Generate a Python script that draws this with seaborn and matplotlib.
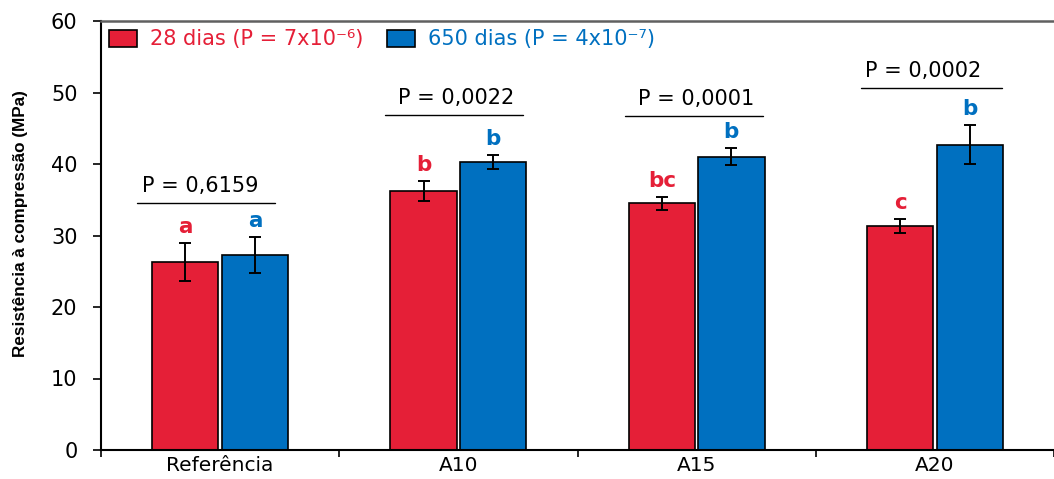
import numpy as np
import pandas as pd
import matplotlib
matplotlib.use("Agg")
import matplotlib.pyplot as plt
import seaborn as sns
from matplotlib.patches import Patch

categories = ["Referência", "A10", "A15", "A20"]
series_names = ["28 dias", "650 dias"]
legend_labels = ["28 dias (P = 7x10⁻⁶)", "650 dias (P = 4x10⁻⁷)"]
values_28 = [26.3, 36.2, 34.5, 31.3]
errors_28 = [2.6, 1.4, 0.9, 1.0]
values_650 = [27.3, 40.3, 41.0, 42.7]
errors_650 = [2.5, 1.0, 1.2, 2.7]
letters_28 = ["a", "b", "bc", "c"]
letters_650 = ["a", "b", "b", "b"]
p_texts = ["P = 0,6159", "P = 0,0022", "P = 0,0001", "P = 0,0002"]
p_levels = [34.55, 46.85, 46.7, 50.6]
yticks = [0, 10, 20, 30, 40, 50, 60]

# layout of the P-value brackets (offsets from category centre)
line_start = [-0.35, -0.31, -0.30, -0.31]
line_end = [0.23, 0.27, 0.28, 0.28]
text_off = [-0.085, -0.01, 0.0, -0.05]

red = "#E51F37"
blue = "#0070C0"

sns.set_style("white")
plt.rcParams["font.family"] = ["DejaVu Sans"]
plt.rcParams["text.color"] = "black"
plt.rcParams["axes.labelcolor"] = "black"
plt.rcParams["xtick.color"] = "black"
plt.rcParams["ytick.color"] = "black"

df = pd.DataFrame({
    "cat": categories * 2,
    "serie": [series_names[0]] * 4 + [series_names[1]] * 4,
    "val": values_28 + values_650,
})

fig = plt.figure(figsize=(10.54, 4.79), dpi=100)
ax = fig.add_axes([101 / 1054, 1 - 450 / 479, 1 - 101 / 1054, (450 - 21) / 479])

sns.barplot(data=df, x="cat", y="val", hue="serie", order=categories,
            hue_order=series_names, palette=[red, blue], saturation=1,
            width=0.584, gap=0.048, edgecolor="black", linewidth=1.2,
            errorbar=None, legend=False, ax=ax)

cols = [red, blue]
vals = [values_28, values_650]
errs = [errors_28, errors_650]
lets = [letters_28, letters_650]
bar_containers = list(ax.containers)
for s, cont in enumerate(bar_containers):
    for i, bar in enumerate(cont.patches):
        xc = bar.get_x() + bar.get_width() / 2
        ax.errorbar(xc, vals[s][i], yerr=errs[s][i], fmt="none", ecolor="black",
                    elinewidth=1.4, capsize=4, capthick=1.4, zorder=5)
        ax.text(xc, vals[s][i] + errs[s][i] + 1.4, lets[s][i], color=cols[s],
                ha="center", va="baseline", fontsize=15.5, fontweight="bold")

for i, (txt, lvl) in enumerate(zip(p_texts, p_levels)):
    ax.plot([i + line_start[i], i + line_end[i]], [lvl, lvl], color="black", lw=1.0)
    ax.text(i + text_off[i], lvl + 1.5, txt, ha="center", va="baseline", fontsize=15,
            color="black")

ax.set_ylim(0, 60)
ax.set_xlim(-0.5, -0.5 + 953 / 241.5)
ax.set_yticks(yticks)
ax.set_xticks(range(len(categories)))
ax.set_xticklabels(categories)
ax.set_xticks(np.arange(-0.5, 4, 1), minor=True)
ax.tick_params(axis="x", which="major", length=0, labelsize=14.5, pad=4, labelcolor="black")
ax.tick_params(axis="x", which="minor", length=5, width=1.2, direction="out", bottom=True,
               color="black")
ax.tick_params(axis="y", length=6, width=1.2, direction="out", left=True, labelsize=15, pad=11,
               color="black", labelcolor="black")
ax.set_xlabel("")
ax.set_ylabel("Resistência à compressão (MPa)", fontsize=12.3, fontweight="bold", color="black",
              family=["Liberation Sans Narrow", "Liberation Sans", "DejaVu Sans"])
ax.yaxis.set_label_coords(-0.077, 0.528)

for sp in ["left", "bottom"]:
    ax.spines[sp].set_color("black")
    ax.spines[sp].set_linewidth(1.5)
ax.spines["top"].set_color("#606060")
ax.spines["top"].set_linewidth(1.8)
ax.spines["right"].set_visible(False)

handles = [Patch(facecolor=red, edgecolor="black", linewidth=1.2),
           Patch(facecolor=blue, edgecolor="black", linewidth=1.2)]
ax.legend(handles, legend_labels, loc="upper left", bbox_to_anchor=(0.0, 1.0), ncol=2,
          frameon=False, fontsize=15, labelcolor=cols, handlelength=1.35,
          handleheight=0.9, columnspacing=1.15, handletextpad=0.6,
          borderaxespad=0.0, borderpad=0.4)

fig.savefig("out.png", dpi=100)
